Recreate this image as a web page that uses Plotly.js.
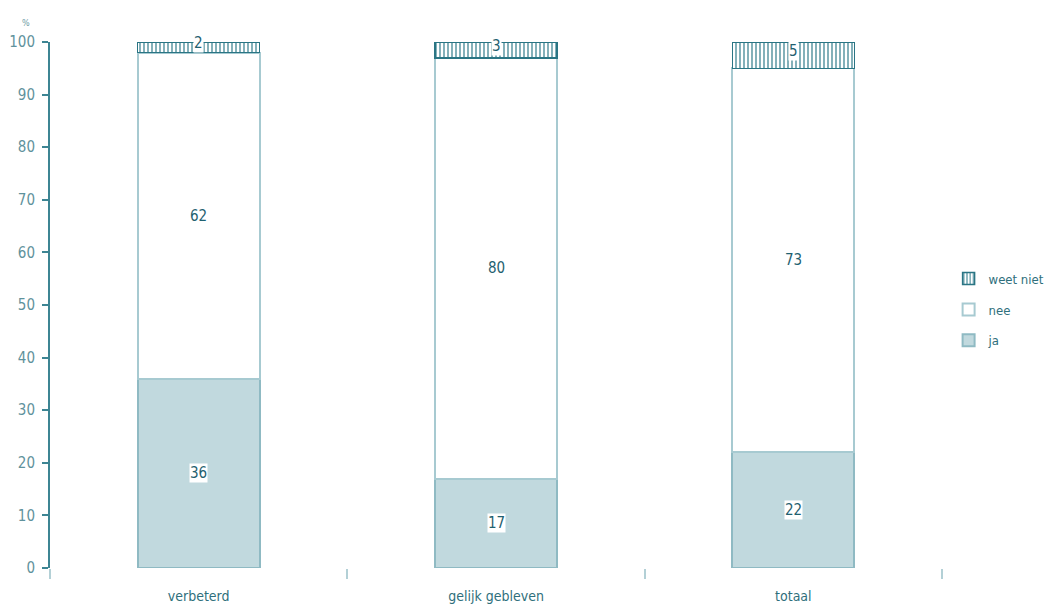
<!DOCTYPE html>
<html>
<head>
<meta charset="utf-8">
<script src="https://cdn.plot.ly/plotly-3.0.1.min.js"></script>
<style>html,body{margin:0;padding:0;background:#fff;}#chart{width:1054px;height:606px;}</style>
</head>
<body>
<div id="chart"></div>
<script>
const categories = ["verbeterd", "gelijk gebleven", "totaal"];
const ja = [36, 17, 22];
const nee = [62, 80, 73];
const weetNiet = [2, 3, 5];
const yTicks = [0, 10, 20, 30, 40, 50, 60, 70, 80, 90, 100];

const dark = "#2a7584";
const light = "#a7cad1";
const fill = "#c1d9de";
const fam = "DejaVu Sans Condensed, DejaVu Sans, sans-serif";
const labelFont = {family: fam, size: 15, color: "#1f6170"};

const traces = [
  {type: "bar", name: "ja", legendgroup: "a", legendrank: 3, x: categories, y: ja, width: 0.41,
   marker: {color: fill, line: {color: "#8fbac3", width: 2}}},
  {type: "bar", name: "nee", legendgroup: "b", legendrank: 2, x: categories, y: nee, width: 0.41,
   marker: {color: "#ffffff", line: {color: light, width: 2}}},
  {type: "bar", name: "weet niet", legendgroup: "c", legendrank: 1, x: categories, y: weetNiet, width: 0.41,
   marker: {color: "#ffffff", line: {color: dark, width: 1.5},
            pattern: {shape: "|", fgcolor: "#4f8f9c", bgcolor: "#ffffff", size: 4, solidity: 0.35}}}
];

const annotations = [];
categories.forEach((c, i) => {
  const segs = [ja[i], nee[i], weetNiet[i]];
  let base = 0;
  segs.forEach((v, k) => {
    const yPos = k === 2 ? base + v / 2 + 0.8 : base + v / 2;
    annotations.push({x: c, y: yPos, xref: "x", yref: "y", text: String(v), showarrow: false,
      font: labelFont, bgcolor: "#ffffff", borderpad: 0});
    base += v;
  });
});
annotations.push({xref: "paper", yref: "paper", x: -0.034, y: 1.05, text: "%", showarrow: false,
  font: {family: fam, size: 9, color: "#6a9aa3"}});

const layout = {
  width: 1054, height: 606,
  margin: {l: 50, r: 112, t: 42, b: 38},
  paper_bgcolor: "#ffffff", plot_bgcolor: "#ffffff",
  barmode: "stack",
  showlegend: true,
  legend: {xref: "container", yref: "container", x: 0.9, y: 0.565, xanchor: "left", yanchor: "top",
    traceorder: "grouped", tracegroupgap: 11,
    font: {family: fam, size: 13, color: "#2f6f7c"},
    itemwidth: 30, bgcolor: "rgba(0,0,0,0)"},
  xaxis: {type: "category", range: [-0.5, 2.5], tickson: "boundaries", ticks: "outside",
    ticklen: 10, tickwidth: 2, tickcolor: "#b3d0d6", showline: false, showgrid: false, zeroline: false,
    ticklabelstandoff: 18,
    tickfont: {family: fam, size: 14, color: "#2f6f7c"}},
  yaxis: {range: [0, 100], tickvals: yTicks, ticktext: yTicks.map(String), ticks: "outside",
    ticklen: 6, tickwidth: 2, tickcolor: "#3d8593", showline: true, linecolor: "#3d8593", linewidth: 2,
    showgrid: false, zeroline: false, ticklabelstandoff: 4,
    tickfont: {family: fam, size: 15, color: "#5f929c"}},
  annotations: annotations
};

Plotly.newPlot("chart", traces, layout, {displayModeBar: false, staticPlot: true});
</script>
</body>
</html>
